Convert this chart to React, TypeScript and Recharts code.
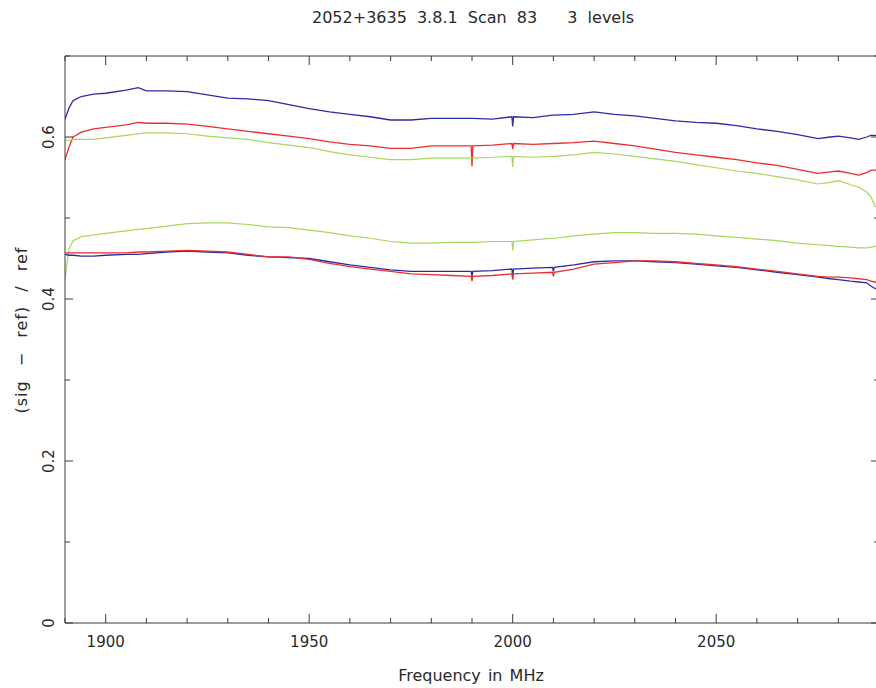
import React from 'react';
import { LineChart, Line, XAxis, YAxis } from 'recharts';

const TITLE = '2052+3635 3.8.1 Scan 83   3 levels';
const X_LABEL = 'Frequency in MHz';
const Y_LABEL = '(sig \u2212 ref) / ref';

const FREQ = [
  1890, 1891, 1892, 1894, 1897,
  1900, 1905, 1908, 1910, 1915,
  1920, 1925, 1930, 1935, 1940,
  1945, 1950, 1955, 1960, 1965,
  1970, 1975, 1980, 1985, 1989.8,
  1990, 1990.2, 1995, 1999.8, 2000,
  2000.2, 2005, 2009.8, 2010, 2010.2,
  2015, 2020, 2025, 2030, 2035,
  2040, 2045, 2050, 2055, 2060,
  2065, 2070, 2075, 2078, 2080,
  2083, 2085, 2087, 2088, 2089,
  2090,
];

const BLUE_UPPER = [
  0.622, 0.636, 0.645, 0.650, 0.653,
  0.654, 0.658, 0.661, 0.657, 0.657,
  0.656, 0.652, 0.648, 0.647, 0.645,
  0.640, 0.635, 0.631, 0.628, 0.625,
  0.621, 0.621, 0.623, 0.623, 0.623,
  0.623, 0.623, 0.622, 0.625, 0.613,
  0.625, 0.624, 0.627, 0.627, 0.627,
  0.628, 0.631, 0.628, 0.626, 0.623,
  0.620, 0.618, 0.617, 0.614, 0.610,
  0.607, 0.603, 0.598, 0.600, 0.601,
  0.599, 0.597, 0.600, 0.602, 0.602,
  0.601,
];

const RED_UPPER = [
  0.572, 0.588, 0.600, 0.606, 0.610,
  0.612, 0.615, 0.618, 0.617, 0.617,
  0.616, 0.613, 0.610, 0.607, 0.604,
  0.601, 0.598, 0.594, 0.591, 0.589,
  0.586, 0.586, 0.589, 0.589, 0.589,
  0.564, 0.589, 0.590, 0.592, 0.585,
  0.592, 0.591, 0.592, 0.592, 0.592,
  0.593, 0.595, 0.592, 0.589, 0.585,
  0.581, 0.578, 0.575, 0.572, 0.568,
  0.565, 0.560, 0.555, 0.557, 0.558,
  0.555, 0.553, 0.556, 0.559, 0.559,
  0.559,
];

const GREEN_UPPER = [
  0.596, 0.596, 0.597, 0.597, 0.597,
  0.599, 0.602, 0.604, 0.605, 0.605,
  0.604, 0.601, 0.599, 0.597, 0.593,
  0.590, 0.587, 0.582, 0.578, 0.575,
  0.572, 0.572, 0.574, 0.574, 0.574,
  0.574, 0.574, 0.575, 0.576, 0.563,
  0.576, 0.575, 0.576, 0.576, 0.576,
  0.578, 0.581, 0.579, 0.576, 0.573,
  0.570, 0.566, 0.562, 0.558, 0.555,
  0.551, 0.547, 0.542, 0.544, 0.546,
  0.541, 0.538, 0.532, 0.526, 0.515,
  0.510,
];

const GREEN_LOWER = [
  0.425, 0.462, 0.472, 0.477, 0.479,
  0.481, 0.484, 0.486, 0.487, 0.490,
  0.493, 0.494, 0.494, 0.492, 0.489,
  0.488, 0.485, 0.482, 0.478, 0.475,
  0.471, 0.469, 0.469, 0.470, 0.470,
  0.470, 0.470, 0.471, 0.471, 0.460,
  0.471, 0.473, 0.475, 0.475, 0.475,
  0.478, 0.480, 0.482, 0.482, 0.481,
  0.481, 0.480, 0.478, 0.476, 0.474,
  0.472, 0.469, 0.467, 0.466, 0.465,
  0.464, 0.463, 0.463, 0.464, 0.465,
  0.465,
];

const RED_LOWER = [
  0.457, 0.457, 0.457, 0.457, 0.457,
  0.457, 0.457, 0.458, 0.458, 0.459,
  0.460, 0.459, 0.458, 0.455, 0.452,
  0.452, 0.449, 0.444, 0.440, 0.437,
  0.434, 0.431, 0.430, 0.429, 0.428,
  0.422, 0.428, 0.429, 0.431, 0.424,
  0.431, 0.432, 0.433, 0.428, 0.433,
  0.437, 0.443, 0.445, 0.447, 0.447,
  0.446, 0.444, 0.442, 0.440, 0.437,
  0.434, 0.431, 0.428, 0.427, 0.427,
  0.426, 0.425, 0.424, 0.422, 0.421,
  0.421,
];

const BLUE_LOWER = [
  0.455, 0.454, 0.454, 0.453, 0.453,
  0.454, 0.455, 0.455, 0.456, 0.458,
  0.459, 0.458, 0.457, 0.454, 0.452,
  0.451, 0.450, 0.446, 0.442, 0.439,
  0.436, 0.434, 0.434, 0.434, 0.434,
  0.428, 0.434, 0.435, 0.437, 0.428,
  0.437, 0.438, 0.439, 0.434, 0.439,
  0.442, 0.446, 0.447, 0.447, 0.446,
  0.445, 0.443, 0.441, 0.439, 0.436,
  0.433, 0.430, 0.427, 0.425, 0.424,
  0.422, 0.421, 0.420, 0.416, 0.413,
  0.412,
];

const X_TICKS = [1890, 1900, 1910, 1920, 1930, 1940, 1950, 1960, 1970, 1980, 1990, 2000, 2010, 2020, 2030, 2040, 2050, 2060, 2070, 2080, 2090];
const X_LABELED = [1900, 1950, 2000, 2050];
const Y_TICKS = [0, 0.1, 0.2, 0.3, 0.4, 0.5, 0.6, 0.7];
const Y_LABELS: Record<string, string> = { '0': '0', '0.2': '0.2', '0.4': '0.4', '0.6': '0.6' };

const BLUE = '#2c2ca8';
const RED = '#ec2e2e';
const GREEN = '#a6d65a';
const AXIS = '#3a3a3a';
const FONT = 'DejaVu Sans, Verdana, sans-serif';
const TXT = '#2a2a2a';

const rows = FREQ.map((f, i) => ({
  f,
  bu: BLUE_UPPER[i],
  ru: RED_UPPER[i],
  gu: GREEN_UPPER[i],
  gl: GREEN_LOWER[i],
  rl: RED_LOWER[i],
  bl: BLUE_LOWER[i],
}));

const BottomTick = (p: any) => {
  const { x, y, payload } = p;
  const v = payload.value;
  const major = v % 50 === 0;
  return (
    <g>
      <line x1={x} x2={x} y1={y} y2={y - (major ? 9 : 5)} stroke={AXIS} strokeWidth={1} />
      {X_LABELED.includes(v) && (
        <text x={x} y={y + 24} textAnchor="middle" fontFamily={FONT} fontSize={15} fill={TXT}>
          {v}
        </text>
      )}
    </g>
  );
};

const TopTick = (p: any) => {
  const { x, y, payload } = p;
  const major = payload.value % 50 === 0;
  return <line x1={x} x2={x} y1={y} y2={y + (major ? 9 : 5)} stroke={AXIS} strokeWidth={1} />;
};

const LeftTick = (p: any) => {
  const { x, y, payload } = p;
  const v = payload.value;
  const key = String(Math.round(v * 10) / 10);
  const major = Math.round(v * 10) % 2 === 0;
  const lx = 49;
  return (
    <g>
      <line x1={x} x2={x + (major ? 8 : 5)} y1={y} y2={y} stroke={AXIS} strokeWidth={1} />
      {Y_LABELS[key] !== undefined && (
        <text
          x={lx}
          y={y}
          transform={`rotate(-90 ${lx} ${y})`}
          textAnchor="middle"
          dominantBaseline="central"
          fontFamily={FONT}
          fontSize={15}
          fill={TXT}
        >
          {Y_LABELS[key]}
        </text>
      )}
    </g>
  );
};

const RightTick = (p: any) => {
  const { x, y, payload } = p;
  const major = Math.round(payload.value * 10) % 2 === 0;
  return <line x1={x} x2={x - (major ? 8 : 5)} y1={y} y2={y} stroke={AXIS} strokeWidth={1} />;
};

export default function App() {
  return (
    <div style={{ position: 'absolute', left: 0, top: 0, width: 876, height: 688, overflow: 'hidden', background: '#fff' }}>
      <LineChart
        width={900}
        height={688}
        data={rows}
        margin={{ top: 55, right: 20, bottom: 0, left: 0 }}
        style={{ background: '#fff' }}
      >
        <XAxis
          xAxisId="b"
          dataKey="f"
          type="number"
          domain={[1890, 2090]}
          ticks={X_TICKS}
          interval={0}
          height={65}
          tickSize={0}
          tickMargin={0}
          tickLine={false}
          axisLine={{ stroke: AXIS, strokeWidth: 1 }}
          tick={<BottomTick />}
          allowDataOverflow
        />
        <XAxis
          xAxisId="t"
          orientation="top"
          dataKey="f"
          type="number"
          domain={[1890, 2090]}
          ticks={X_TICKS}
          interval={0}
          height={1}
          tickSize={0}
          tickMargin={0}
          tickLine={false}
          axisLine={{ stroke: AXIS, strokeWidth: 1 }}
          tick={<TopTick />}
          allowDataOverflow
        />
        <YAxis
          yAxisId="l"
          type="number"
          domain={[0, 0.7]}
          ticks={Y_TICKS}
          interval={0}
          width={65}
          tickSize={0}
          tickMargin={0}
          tickLine={false}
          axisLine={{ stroke: AXIS, strokeWidth: 1 }}
          tick={<LeftTick />}
          allowDataOverflow
        />
        <YAxis
          yAxisId="r"
          orientation="right"
          type="number"
          domain={[0, 0.7]}
          ticks={Y_TICKS}
          interval={0}
          width={1}
          tickSize={0}
          tickMargin={0}
          tickLine={false}
          axisLine={{ stroke: 'none', strokeWidth: 0 }}
          tick={<RightTick />}
          allowDataOverflow
        />
        <Line xAxisId="b" yAxisId="l" dataKey="bu" stroke={BLUE} strokeWidth={1.3} dot={false} type="linear" isAnimationActive={false} />
        <Line xAxisId="b" yAxisId="l" dataKey="ru" stroke={RED} strokeWidth={1.3} dot={false} type="linear" isAnimationActive={false} />
        <Line xAxisId="b" yAxisId="l" dataKey="gu" stroke={GREEN} strokeWidth={1.2} dot={false} type="linear" isAnimationActive={false} />
        <Line xAxisId="b" yAxisId="l" dataKey="gl" stroke={GREEN} strokeWidth={1.2} dot={false} type="linear" isAnimationActive={false} />
        <Line xAxisId="b" yAxisId="l" dataKey="bl" stroke={BLUE} strokeWidth={1.3} dot={false} type="linear" isAnimationActive={false} />
        <Line xAxisId="b" yAxisId="l" dataKey="rl" stroke={RED} strokeWidth={1.3} dot={false} type="linear" isAnimationActive={false} />
        <text x={473} y={23} textAnchor="middle" fontFamily={FONT} fontSize={16} fill={TXT} style={{ whiteSpace: 'pre', wordSpacing: 5 }}>
          {TITLE}
        </text>
        <text x={471} y={681} textAnchor="middle" fontFamily={FONT} fontSize={16} fill={TXT} style={{ wordSpacing: 2 }}>
          {X_LABEL}
        </text>
        <text
          x={21}
          y={330}
          transform="rotate(-90 21 330)"
          textAnchor="middle"
          dominantBaseline="central"
          fontFamily={FONT}
          fontSize={16}
          fill={TXT}
          style={{ wordSpacing: 8, letterSpacing: 1 }}
        >
          {Y_LABEL}
        </text>
      </LineChart>
    </div>
  );
}
